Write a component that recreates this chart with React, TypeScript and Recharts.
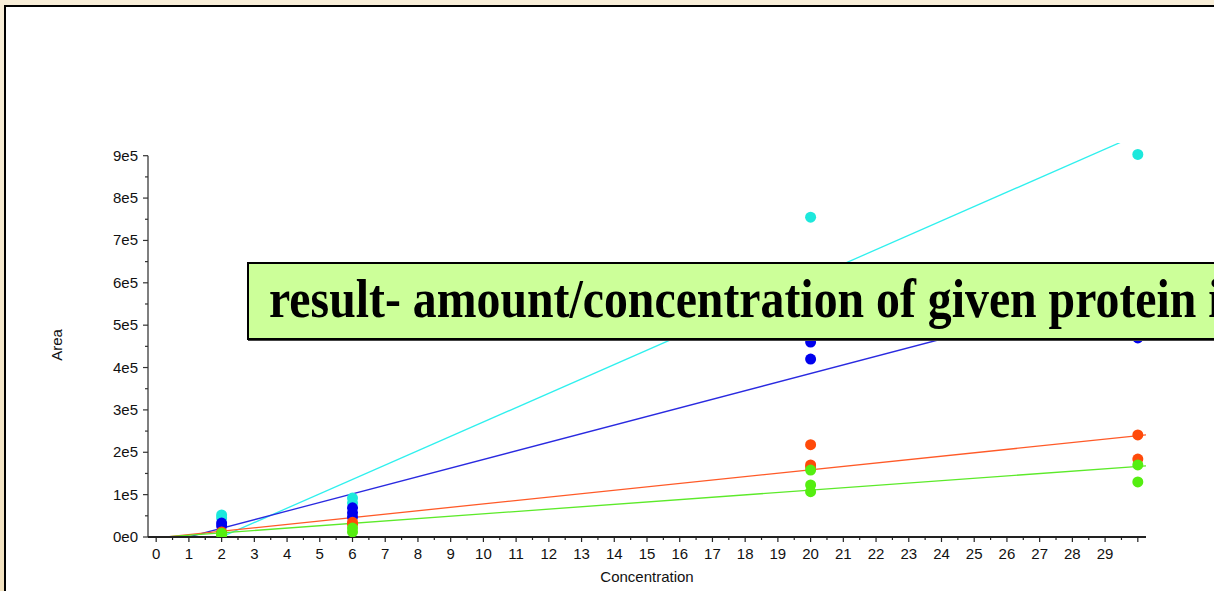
import React from 'react';
import { ComposedChart, Line, Scatter, XAxis, YAxis, ReferenceLine } from 'recharts';

// replicate concentrations and measured areas, per protein
const cyanX = [2, 2, 6, 6, 20, 20, 20, 30];
const cyanY = [52000, 45000, 92000, 80000, 755000, 560000, 500000, 903000];
const blueX = [2, 2, 6, 6, 6, 20, 20, 20, 30, 30];
const blueY = [33000, 26000, 69000, 57000, 47000, 460000, 420000, 490000, 470000, 540000];
const orangeX = [2, 2, 6, 6, 20, 20, 20, 30, 30];
const orangeY = [12000, 8000, 35000, 30000, 218000, 170000, 165000, 241000, 184000];
const greenX = [2, 2, 6, 6, 20, 20, 20, 30, 30];
const greenY = [9000, 4000, 21000, 12000, 158000, 123000, 107000, 170000, 130000];

// fitted calibration lines, read at both ends of the axis
const fitX = [-0.25, 30.25];
const cyanFit = [-76000, 958000];
const blueFit = [-25000, 594000];
const orangeFit = [-4400, 241000];
const greenFit = [-2800, 168000];

const xTicks = Array.from({ length: 61 }, (_, i) => i / 2);
const yTicks = Array.from({ length: 19 }, (_, i) => i * 50000);

const pts = (xs: number[], ys: number[]) => xs.map((x, i) => ({ x, y: ys[i] }));

const XTick = (props: any) => {
  const { x, y, payload } = props;
  const v = payload.value;
  const major = Number.isInteger(v);
  return (
    <g>
      <line x1={x} x2={x} y1={y - 10} y2={y - 10 + (major ? 5 : 3)} stroke="#222" strokeWidth={1.2} />
      {major && v < 30 && (
        <text x={x} y={y + 12} textAnchor="middle" fontSize={15} fill="#111">{v}</text>
      )}
    </g>
  );
};

const YTick = (props: any) => {
  const { x, y, payload } = props;
  const v = payload.value;
  const major = v % 100000 === 0;
  return (
    <g>
      <line x1={x + 10} x2={x + 10 - (major ? 5 : 3)} y1={y} y2={y} stroke="#333" strokeWidth={1.2} />
      {major && (
        <text x={x} y={y + 5} textAnchor="end" fontSize={15} fill="#111">{`${v / 100000}e${v === 0 ? 0 : 5}`}</text>
      )}
    </g>
  );
};

export default function App() {
  return (
    <div style={{ position: 'fixed', left: 0, top: 0, width: 1214, height: 591, overflow: 'hidden', background: 'linear-gradient(180deg, #f8eed8 0%, #f2e2c0 100%)' }}>
      <div style={{ position: 'absolute', left: 4, top: 5, width: 1400, height: 800, background: '#fff', border: '2.5px solid #000' }} />
      <div style={{ position: 'absolute', left: 0, top: 0 }}>
        <ComposedChart width={1214} height={591} margin={{ top: 143, right: 68, bottom: 0, left: 0 }} style={{ fontFamily: '"Liberation Sans", Arial, sans-serif' }}>
          <XAxis
            dataKey="x"
            type="number"
            domain={[-0.25, 30.25]}
            ticks={xTicks}
            interval={0}
            allowDataOverflow
            height={54}
            tickSize={5}
            tickMargin={5}
            tickLine={false}
            tick={<XTick />}
            axisLine={{ stroke: '#222', strokeWidth: 1.8 }}
            label={{ value: 'Concentration', position: 'insideBottom', offset: 9, fontSize: 15, fill: '#111' }}
          />
          <YAxis
            type="number"
            domain={[0, 930000]}
            ticks={yTicks}
            interval={0}
            allowDataOverflow
            width={148}
            tickSize={5}
            tickMargin={5}
            tickLine={false}
            tick={<YTick />}
            axisLine={false}
            label={{
              content: (p: any) => {
                const vb = p.viewBox;
                const cx = vb.x + 62;
                const cy = vb.y + vb.height / 2 + 5;
                return (
                  <text x={cx} y={cy} transform={`rotate(-90 ${cx} ${cy})`} textAnchor="middle" fontSize={15} fill="#111">Area</text>
                );
              },
            }}
          />
          <ReferenceLine segment={[{ x: -0.25, y: 0 }, { x: -0.25, y: 900000 }]} stroke="#555" strokeWidth={1.5} />
          <Line data={pts(fitX, cyanFit)} dataKey="y" stroke="#2ff0ee" strokeWidth={1.3} dot={false} isAnimationActive={false} />
          <Line data={pts(fitX, blueFit)} dataKey="y" stroke="#2a2ae0" strokeWidth={1.3} dot={false} isAnimationActive={false} />
          <Line data={pts(fitX, orangeFit)} dataKey="y" stroke="#ff5a28" strokeWidth={1.3} dot={false} isAnimationActive={false} />
          <Line data={pts(fitX, greenFit)} dataKey="y" stroke="#5cea2a" strokeWidth={1.3} dot={false} isAnimationActive={false} />
          <Scatter data={pts(cyanX, cyanY)} dataKey="y" fill="#1de8dc" shape={(p: any) => <circle cx={p.cx} cy={p.cy} r={5.5} fill="#1de8dc" />} isAnimationActive={false} />
          <Scatter data={pts(blueX, blueY)} dataKey="y" fill="#0000ee" shape={(p: any) => <circle cx={p.cx} cy={p.cy} r={5.5} fill="#0000ee" />} isAnimationActive={false} />
          <Scatter data={pts(orangeX, orangeY)} dataKey="y" fill="#ff4a0a" shape={(p: any) => <circle cx={p.cx} cy={p.cy} r={5.5} fill="#ff4a0a" />} isAnimationActive={false} />
          <Scatter data={pts(greenX, greenY)} dataKey="y" fill="#55ee11" shape={(p: any) => <circle cx={p.cx} cy={p.cy} r={5.5} fill="#55ee11" />} isAnimationActive={false} />
        </ComposedChart>
      </div>
      <div style={{ position: 'absolute', left: 247, top: 262, width: 1100, height: 74, background: '#ccff99', border: '2px solid #000', boxShadow: '1px 1px 0 #444', overflow: 'hidden' }}>
        <div style={{ position: 'absolute', left: 20, top: 6, fontFamily: '"Liberation Serif", "Times New Roman", serif', fontWeight: 'bold', fontSize: 54, lineHeight: '58px', whiteSpace: 'nowrap', transform: 'scaleX(0.885)', transformOrigin: 'left center', color: '#000' }}>
          result- amount/concentration of given protein in sample
        </div>
      </div>
    </div>
  );
}
